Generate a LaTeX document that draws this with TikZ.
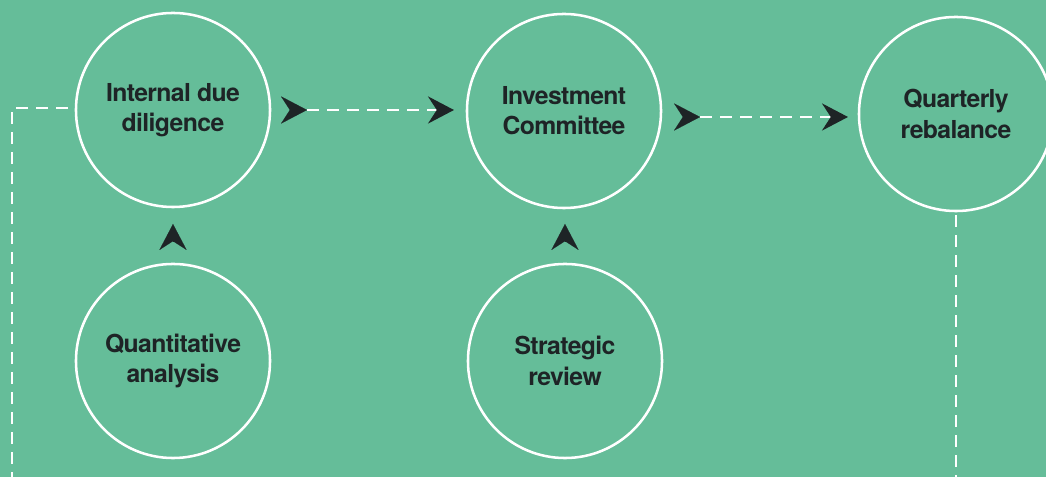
\documentclass[tikz,border=0pt]{standalone}
\usepackage{fontspec}
\setmainfont{TeX Gyre Heros}[LetterSpace=-2.5]
\usetikzlibrary{arrows.meta, calc}

\definecolor{bggreen}{HTML}{65BD99}
\definecolor{inkdark}{HTML}{1E2426}

\begin{document}
\begin{tikzpicture}[x=0.025cm, y=-0.025cm,
    stage/.style={draw=white, circle, line width=1.8pt, minimum size=4.85cm, inner sep=0pt, outer sep=0pt, align=center, text=inkdark, font=\bfseries\fontsize{17.6}{21.5}\selectfont},
    headtip/.style={draw=inkdark, line width=0.1pt, -{Stealth[length=0.65cm, width=0.68cm, inset=0.22cm]}},
    flowline/.style={draw=white, line width=1.4pt, dash pattern=on 0.3cm off 0.2cm, -{Stealth[length=0.65cm, width=0.68cm, inset=0.22cm, color=inkdark]}},
    loopline/.style={draw=white, line width=1.4pt, dash pattern=on 0.3cm off 0.2cm}]
            \fill[bggreen] (0,0) rectangle (1046,477);
            \useasboundingbox (0,0) rectangle (1046,477);

            \node[stage] (idd) at (173,110) {Internal due\\diligence};
            \node[stage] (ic) at (564,111) {Investment\\Committee};
            \node[stage] (qr) at (956,114) {Quarterly\\rebalance};
            \node[stage] (qa) at (173,361) {Quantitative\\analysis};
            \node[stage] (sr) at (565,361) {Strategic\\review};

            \coordinate (loopend) at (12,480);
            \coordinate (rightend) at (956,480);

            % Draw arrows
            \draw[headtip] ($(idd.east)+(21,0)$) -- ($(idd.east)+(37,0)$);
            \draw[flowline] ($(idd.east)+(37,0)$) -- ($(ic.west)+(-13,-1)$);
            \draw[headtip] ($(ic.east)+(22,6)$) -- ($(ic.east)+(39,6)$);
            \draw[flowline] ($(ic.east)+(39,6)$) -- ($(qr.west)+(-11,3)$);

            \draw[headtip] ($(qa.north)+(0,-23)$) -- ($(qa.north)+(0,-40)$);
            \draw[headtip] ($(sr.north)+(0,-23)$) -- ($(sr.north)+(0,-40)$);

            \draw[loopline] ($(idd.west)+(-8,-2)$) -| (loopend);
            \draw[loopline] ($(qr.south)+(0,4)$) -- (rightend);
        \end{tikzpicture}
\end{document}
